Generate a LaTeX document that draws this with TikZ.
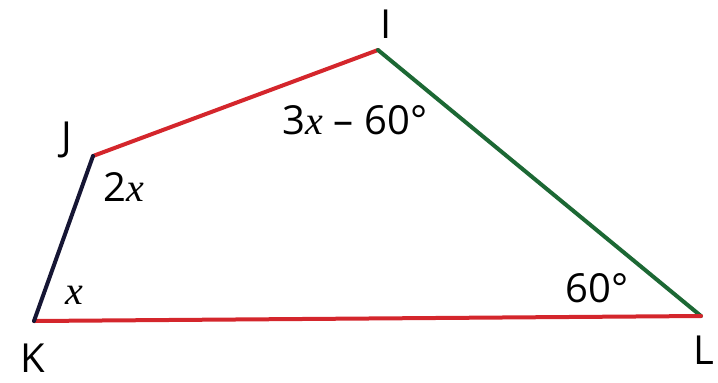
\documentclass[tikz,border=0pt]{standalone}
\usepackage{fontspec}
\setmainfont{Open Sans}
\newfontfamily\varfont{Liberation Serif}
\usetikzlibrary{positioning}

\definecolor{sidered}{RGB}{212,38,44}
\definecolor{sidegreen}{RGB}{28,104,52}
\definecolor{sidenavy}{RGB}{22,22,52}
\newcommand{\vx}{{\varfont\itshape x}}

\begin{document}
\begin{tikzpicture}[x=0.5pt, y=-0.5pt, line cap=round, line join=round,
    side/.style={line width=2pt},
    lbl/.style={font=\fontsize{20}{24}\selectfont, inner sep=0pt}]
  \useasboundingbox (0,0) rectangle (718,382);
  % corners of the quadrilateral
  \coordinate (I) at (378,50);
  \coordinate (J) at (93,156);
  \coordinate (K) at (34,321);
  \coordinate (L) at (701,316);
  \draw[side, sidered] (J) -- (I);
  \draw[side, sidegreen] (I) -- (L);
  \draw[side, sidered] (L) -- (K);
  \draw[side, sidenavy] (K) -- (J);
  % vertex names
  \node[lbl] (nI) at (386,24) {I};
  \node[lbl] (nJ) at (67,140) {J};
  \node[lbl] (nK) at (33,358) {K};
  \node[lbl] (nL) at (704,350) {L};
  % angles
  \node[lbl] (aI) at (355,120) {3\vx{} – 60°};
  \node[lbl] (aJ) at (124,187) {2\vx};
  \node[lbl] (aK) at (74,295) {\vx};
  \node[lbl] (aL) at (597,288) {60°};
\end{tikzpicture}
\end{document}
